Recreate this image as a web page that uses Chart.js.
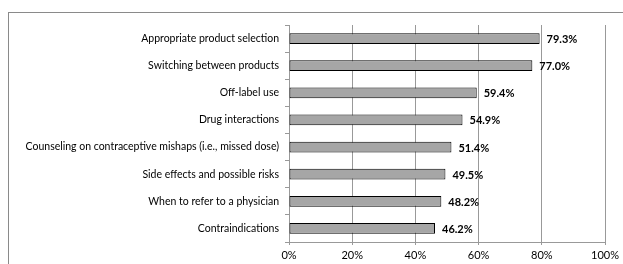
<!DOCTYPE html>
<html>
<head>
<meta charset="utf-8">
<script src="https://cdn.jsdelivr.net/npm/chart.js@4/dist/chart.umd.min.js"></script>
<style>
    html, body { margin: 0; padding: 0; background: #fff; }
    #wrap { width: 623px; height: 264px; position: relative; }
</style>
</head>
<body>
<div id="wrap"><canvas id="chart" width="623" height="264"></canvas></div>
<script>
const categories = [
    'Appropriate product selection',
    'Switching between products',
    'Off-label use',
    'Drug interactions',
    'Counseling on contraceptive mishaps (i.e., missed dose)',
    'Side effects and possible risks',
    'When to refer to a physician',
    'Contraindications'
];
const percentValues = [79.3, 77.0, 59.4, 54.9, 51.4, 49.5, 48.2, 46.2];
const xTicks = [0, 20, 40, 60, 80, 100];

const fontFamily = 'Lato, "Open Sans", sans-serif';

// outer frame of the chart object
const framePlugin = {
    id: 'frame',
    beforeDraw(chart) {
        const ctx = chart.ctx;
        ctx.save();
        ctx.strokeStyle = '#8a8a8a';
        ctx.lineWidth = 1;
        ctx.strokeRect(8.5, 12.5, 700, 300);
        ctx.restore();
    }
};

// bold value labels at the end of each bar
const valueLabels = {
    id: 'valueLabels',
    afterDatasetsDraw(chart) {
        const ctx = chart.ctx;
        const meta = chart.getDatasetMeta(0);
        ctx.save();
        ctx.font = 'bold 11px ' + fontFamily;
        ctx.fillStyle = '#000';
        ctx.textBaseline = 'middle';
        ctx.textAlign = 'left';
        meta.data.forEach((bar, i) => {
            ctx.fillText(percentValues[i].toFixed(1) + '%', bar.x + 7, bar.y + 1);
        });
        ctx.restore();
    }
};

new Chart(document.getElementById('chart'), {
    type: 'bar',
    data: {
        labels: categories,
        datasets: [{
            data: percentValues,
            backgroundColor: '#a6a6a6',
            borderColor: '#000',
            borderWidth: 1,
            borderSkipped: false,
            barPercentage: 0.4,
            categoryPercentage: 1
        }]
    },
    options: {
        indexAxis: 'y',
        responsive: false,
        animation: false,
        events: [],
        layout: { padding: { top: 25, right: 17, bottom: 0, left: 0 } },
        plugins: {
            legend: { display: false },
            tooltip: { enabled: false }
        },
        scales: {
            x: {
                min: 0,
                max: 100,
                afterBuildTicks(scale) {
                    scale.ticks = xTicks.map(v => ({ value: v }));
                },
                afterFit(scale) { scale.height = 22; },
                grid: {
                    color: '#999',
                    lineWidth: 1,
                    drawTicks: true,
                    tickLength: 3
                },
                border: { color: '#999' },
                ticks: {
                    color: '#000',
                    font: { family: fontFamily, size: 11 },
                    padding: 4,
                    maxRotation: 0,
                    callback: v => v + '%'
                }
            },
            y: {
                afterFit(scale) { scale.width = 289; },
                grid: {
                    offset: true,
                    drawOnChartArea: false,
                    drawTicks: true,
                    tickLength: 4,
                    color: '#999'
                },
                border: { color: '#999' },
                ticks: {
                    color: '#000',
                    font: { family: fontFamily, size: 10.5 },
                    padding: 6
                }
            }
        }
    },
    plugins: [framePlugin, valueLabels]
});
</script>
</body>
</html>
